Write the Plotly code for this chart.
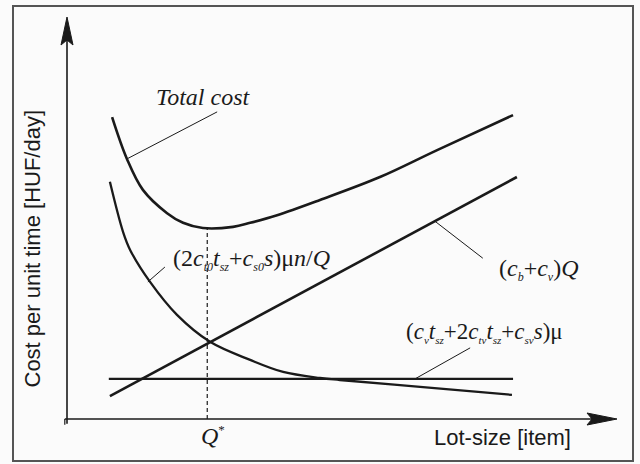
import plotly.graph_objects as go

# Lot-size (item) and cost per unit time (HUF/day), arbitrary units
total_q = [8.2, 10.9, 13.8, 18.2, 21.1, 24.7, 30.2, 33.3, 38.2, 46.0, 56.9, 67.3, 81.1]
total_cost = [75.1, 64.7, 57.0, 51.2, 48.8, 47.5, 47.8, 48.8, 50.7, 54.5, 60.2, 66.9, 75.6]

setup_q = [7.8, 10.2, 11.5, 15.1, 20.0, 26.0, 33.3, 39.3, 46.0, 49.6, 64.2, 80.9]
setup_cost = [59.0, 46.5, 42.0, 34.1, 25.9, 19.2, 14.7, 11.7, 10.2, 9.7, 8.0, 6.0]

holding_q = [7.8, 81.8]
holding_cost = [5.7, 60.2]

fixed_q = [7.6, 81.1]
fixed_cost = [10.0, 10.0]

q_opt = 25.5
q_opt_cost = 47.5

X_MAX = 100.0
Y_MAX = 100.0

INK = "#1a1a1a"
SERIF = "Liberation Serif, Times New Roman, serif"
SANS = "Liberation Sans, Arial, sans-serif"

fig = go.Figure()


def curve(x, y, width, shape="spline"):
    fig.add_trace(go.Scatter(
        x=x, y=y, mode="lines",
        line=dict(color=INK, width=width, shape=shape, smoothing=1.0),
        hoverinfo="skip", showlegend=False,
    ))


curve(total_q, total_cost, 2.6)
curve(setup_q, setup_cost, 2.3)
curve(holding_q, holding_cost, 2.6, "linear")
curve(fixed_q, fixed_cost, 2.3, "linear")

# optimum lot-size marker
fig.add_trace(go.Scatter(
    x=[q_opt, q_opt], y=[0, q_opt_cost], mode="lines",
    line=dict(color=INK, width=1.2, dash="4px,3px"),
    hoverinfo="skip", showlegend=False,
))

shapes = []
# axes
shapes.append(dict(type="line", xref="x", yref="y", x0=-0.4, y0=0, x1=X_MAX - 3, y1=0,
                   line=dict(color=INK, width=1.6)))
shapes.append(dict(type="line", xref="x", yref="y", x0=0, y0=-1.2, x1=0, y1=Y_MAX - 5,
                   line=dict(color=INK, width=1.6)))
# small tick at the left end of the lot-size axis
shapes.append(dict(type="line", xref="x", yref="y", x0=-0.4, y0=0, x1=-0.4, y1=-1.4,
                   line=dict(color=INK, width=1.2)))
# arrowheads
shapes.append(dict(type="path", xref="x", yref="y", xsizemode="pixel", ysizemode="pixel",
                   xanchor=X_MAX, yanchor=0,
                   path="M0,0 L-30,6 L-25,0 L-30,-6 Z",
                   fillcolor=INK, line=dict(color=INK, width=1)))
shapes.append(dict(type="path", xref="x", yref="y", xsizemode="pixel", ysizemode="pixel",
                   xanchor=0, yanchor=Y_MAX,
                   path="M0,0 L6,-28 L0,-23 L-6,-28 Z",
                   fillcolor=INK, line=dict(color=INK, width=1)))

# leader lines from labels to curves
leaders = [
    (27.3, 76.4, 10.9, 64.7),
    (17.8, 37.8, 14.7, 34.1),
    (66.9, 49.2, 75.6, 40.0),
    (73.3, 17.7, 63.3, 10.0),
]
for x0, y0, x1, y1 in leaders:
    shapes.append(dict(type="line", xref="x", yref="y", x0=x0, y0=y0, x1=x1, y1=y1,
                       line=dict(color=INK, width=1.0)))

# frame
shapes.append(dict(type="rect", xref="paper", yref="paper",
                   x0=13 / 640, x1=633 / 640, y0=1 - 461 / 464, y1=1 - 6 / 464,
                   line=dict(color="#555555", width=2), fillcolor="rgba(0,0,0,0)"))


def sub(s, px=12):
    return '<sub><span style="font-size:%dpx"><i>%s</i></span></sub>' % (px, s)


def label(x, y, text, size=24, family=SERIF, angle=0, xanchor="center"):
    fig.add_annotation(x=x, y=y, xref="x", yref="y", text=text, showarrow=False,
                       xanchor=xanchor, yanchor="middle", textangle=angle,
                       font=dict(family=family, size=size, color=INK))


label(24.7, 80.1, "<i>Total cost</i>")
label(33.5, 39.6,
      "(2<i>c</i>" + sub("t0") + "<i>t</i>" + sub("sz") + "+<i>c</i>" + sub("s0")
      + "<i>s</i>)μ<i>n</i>/<i>Q</i>")
label(85.8, 37.1, "(<i>c</i>" + sub("b") + "+<i>c</i>" + sub("v") + ")<i>Q</i>")
label(61.3, 21.6,
      "(<i>c</i>" + sub("v", 11) + "<i>t</i>" + sub("sz", 11) + "+2<i>c</i>" + sub("tv", 11)
      + "<i>t</i>" + sub("sz", 11) + "+<i>c</i>" + sub("sv", 11) + "<i>s</i>)μ",
      size=23, xanchor="left")
label(26.5, -4.0, '<i>Q</i><sup><span style="font-size:13px">*</span></sup>')
label(79.1, -4.5, "Lot-size [item]", size=22, family=SANS)
label(-6.3, 42.5, "Cost per unit time [HUF/day]", size=22, family=SANS, angle=-90)

# 5.5 px per lot-size unit, 4.02 px per cost unit; origin at (67, 419) px
fig.update_layout(
    width=640, height=464,
    margin=dict(l=0, r=0, t=0, b=0),
    paper_bgcolor="#fbfbfb", plot_bgcolor="#fbfbfb",
    shapes=shapes,
    showlegend=False,
    xaxis=dict(visible=False, range=[-67 / 5.5, 573 / 5.5], fixedrange=True, domain=[0, 1]),
    yaxis=dict(visible=False, range=[-45 / 4.02, 419 / 4.02], fixedrange=True, domain=[0, 1]),
)

fig.write_html("out.html")
